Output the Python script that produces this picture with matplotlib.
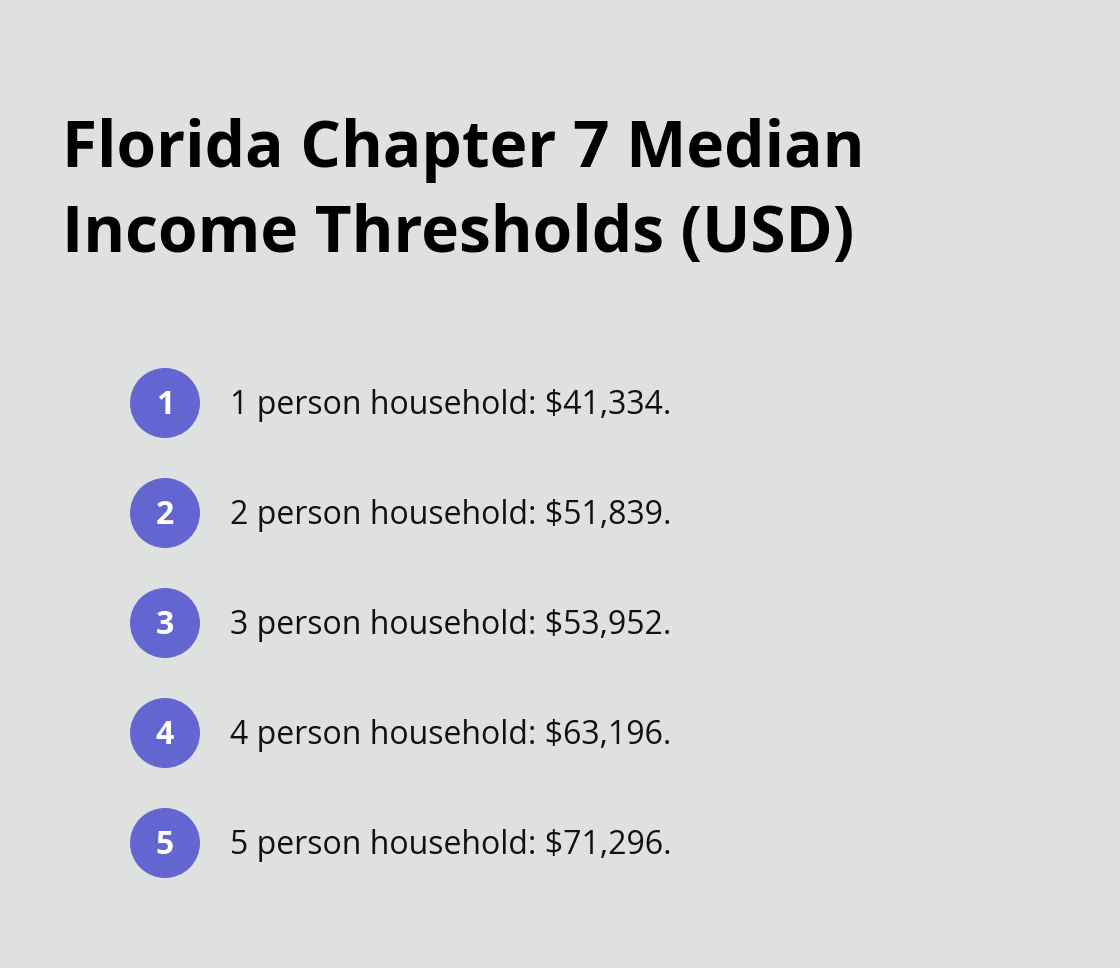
import matplotlib.pyplot as plt
from matplotlib.patches import Circle

title = "Florida Chapter 7 Median\nIncome Thresholds (USD)"
household_sizes = [1, 2, 3, 4, 5]
thresholds = [41334, 51839, 53952, 63196, 71296]

bg = "#dfe1e0"
accent = "#6366d1"

fig = plt.figure(figsize=(11.2, 9.68), dpi=100)
fig.patch.set_facecolor(bg)
ax = fig.add_axes([0, 0, 1, 1])
ax.set_xlim(0, 1120)
ax.set_ylim(968, 0)
ax.axis("off")
ax.set_facecolor(bg)

ax.text(62, 193, title, fontsize=46, fontweight="bold", family="Open Sans",
        va="center", ha="left", linespacing=1.4, color="#000000")

for i, (n, v) in enumerate(zip(household_sizes, thresholds)):
    y = 403 + i * 110
    ax.add_patch(Circle((165, y), 35, color=accent, ec="none"))
    ax.text(165, y + 2, str(n), fontsize=23, fontweight="bold", family="Open Sans",
            color="white", ha="center", va="center")
    ax.text(230, y + 2, f"{n} person household: ${v:,}.", fontsize=23,
            family="Open Sans", color="#111111", ha="left", va="center")

fig.savefig("out.png", dpi=100, facecolor=bg)
